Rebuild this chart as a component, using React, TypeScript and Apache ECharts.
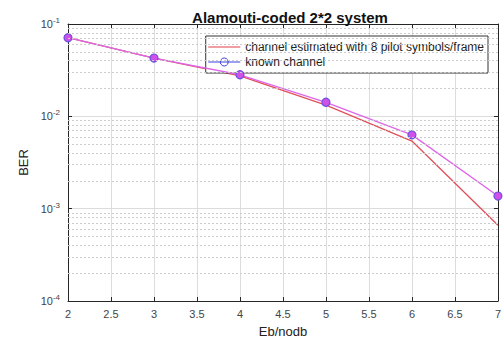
import React, { useEffect, useRef } from "react";
import * as echarts from "echarts";

const ebNo = [2, 3, 4, 5, 6, 7];
const berEstimated = [0.071, 0.0428, 0.0274, 0.0132, 0.0054, 0.00066];
const berKnown = [0.071, 0.0428, 0.0282, 0.0142, 0.0063, 0.00137];
const minorYTicks = [
  2e-4, 3e-4, 4e-4, 5e-4, 6e-4, 7e-4, 8e-4, 9e-4,
  2e-3, 3e-3, 4e-3, 5e-3, 6e-3, 7e-3, 8e-3, 9e-3,
  2e-2, 3e-2, 4e-2, 5e-2, 6e-2, 7e-2, 8e-2, 9e-2,
];
const xMin = 2;
const xMax = 7;
const nameEstimated = "channel estimated with 8 pilot symbols/frame";
const nameKnown = "known channel";

const FONT = "Liberation Sans, Arial, sans-serif";

export default function App() {
  const ref = useRef<HTMLDivElement>(null);
  useEffect(() => {
    if (!ref.current) return;
    const chart = echarts.init(ref.current, undefined, { renderer: "svg" });
    const axisLineStyle = { color: "#262626", width: 1 };
    chart.setOption({
      animation: false,
      backgroundColor: "#ffffff",
      textStyle: { fontFamily: FONT },
      title: {
        text: "Alamouti-coded 2*2 system",
        left: 285,
        top: 5,
        textAlign: "center",
        textStyle: { fontFamily: FONT, fontSize: 15, fontWeight: "bold", color: "#111" },
      },
      legend: {
        right: 16,
        top: 36,
        orient: "vertical",
        backgroundColor: "#ffffff",
        borderColor: "#333",
        borderWidth: 1,
        borderRadius: 0,
        padding: [5, 4, 5, 2],
        itemGap: 3,
        itemWidth: 32,
        itemHeight: 10,
        textStyle: { fontFamily: FONT, fontSize: 12, color: "#222" },
        data: [
          {
            name: nameEstimated,
            lineStyle: { color: "#e0404a", width: 1 },
            itemStyle: { color: "rgba(0,0,0,0)", borderColor: "rgba(0,0,0,0)", borderWidth: 0 },
          },
          {
            name: nameKnown,
            lineStyle: { color: "#4040e0", width: 1 },
            itemStyle: { color: "rgba(0,0,0,0)", borderColor: "#4040e0", borderWidth: 1 },
          },
        ],
      },
      grid: { left: 68, right: 2, top: 24, bottom: 37 },
      xAxis: [
        {
          type: "value",
          min: xMin,
          max: xMax,
          interval: 0.5,
          name: "Eb/nodb",
          nameLocation: "middle",
          nameGap: 24,
          nameTextStyle: { fontFamily: FONT, fontSize: 13, color: "#222" },
          axisLine: { lineStyle: axisLineStyle },
          axisTick: { inside: true, length: 4, lineStyle: axisLineStyle },
          axisLabel: { fontFamily: FONT, fontSize: 11, color: "#444", margin: 7 },
          splitLine: { show: true, lineStyle: { color: "#dcdcdc", width: 1 } },
        },
        {
          type: "value",
          position: "top",
          min: xMin,
          max: xMax,
          interval: 0.5,
          axisLine: { show: true, lineStyle: axisLineStyle },
          axisTick: { show: true, inside: true, length: 4, lineStyle: axisLineStyle },
          axisLabel: { show: false },
          splitLine: { show: false },
        },
      ],
      yAxis: [
        {
          type: "log",
          logBase: 10,
          min: 1e-4,
          max: 1e-1,
          name: "BER",
          nameLocation: "middle",
          nameGap: 37,
          nameTextStyle: { fontFamily: FONT, fontSize: 13, color: "#222" },
          axisLine: { show: true, lineStyle: axisLineStyle },
          axisTick: { show: true, inside: true, length: 4, lineStyle: axisLineStyle },
          axisLabel: {
            fontFamily: FONT,
            fontSize: 11,
            color: "#444",
            margin: 8,
            formatter: (v: number) => `10{sup|${Math.round(Math.log10(v))}}`,
            rich: {
              sup: { fontSize: 8, color: "#444", fontFamily: FONT, padding: [0, 0, 7, 0] },
            },
          },
          splitLine: { show: true, lineStyle: { color: "#dcdcdc", width: 1 } },
        },
        {
          type: "log",
          logBase: 10,
          min: 1e-4,
          max: 1e-1,
          position: "right",
          axisLine: { show: true, lineStyle: axisLineStyle },
          axisTick: { show: true, inside: true, length: 4, lineStyle: axisLineStyle },
          axisLabel: { show: false },
          splitLine: { show: false },
        },
      ],
      series: [
        {
          name: nameEstimated,
          type: "line",
          data: ebNo.map((x, i) => [x, berEstimated[i]]),
          showSymbol: false,
          symbol: "none",
          lineStyle: { color: "#e0505a", width: 1.3 },
          itemStyle: { color: "#e0505a" },
          z: 3,
          markLine: {
            silent: true,
            symbol: "none",
            label: { show: false },
            lineStyle: { color: "#cccccc", type: [2, 2], width: 1 },
            data: minorYTicks.map((v) => [
              { coord: [xMin, v] },
              { coord: [xMax, v] },
            ]),
          },
        },
        {
          name: nameKnown,
          type: "line",
          data: ebNo.map((x, i) => [x, berKnown[i]]),
          symbol: "circle",
          symbolSize: 8,
          lineStyle: { color: "#dd66e8", width: 1.3 },
          itemStyle: { color: "#d050e8", borderColor: "#6a50e0", borderWidth: 1.2 },
          z: 4,
        },
      ],
    });
    return () => chart.dispose();
  }, []);
  return <div ref={ref} style={{ width: 504, height: 343, position: "absolute", left: 0, top: 0 }} />;
}
